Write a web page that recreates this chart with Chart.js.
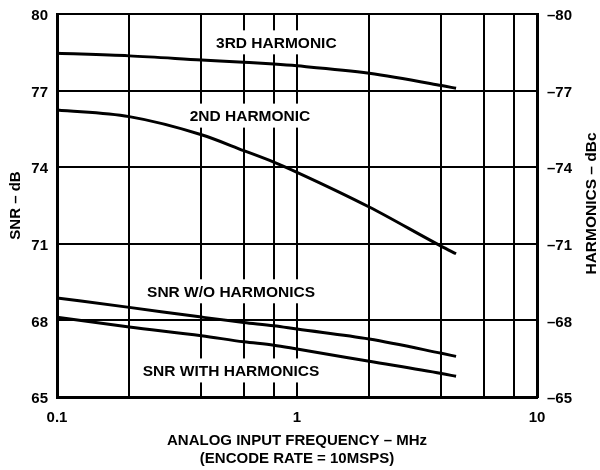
<!DOCTYPE html>
<html lang="en">
<head>
<meta charset="utf-8">
<title>SNR / Harmonics vs Analog Input Frequency</title>
<script src="https://cdn.jsdelivr.net/npm/chart.js@4.4.0/dist/chart.umd.min.js"></script>
<style>
  html, body { margin: 0; padding: 0; background: #fff; }
  #wrap { width: 600px; height: 470px; }
</style>
</head>
<body>
<div id="wrap"><canvas id="snr-chart"></canvas></div>
<script>
// データ (横軸: MHz, SNR は dB, 高調波は dBc)
const freqMHz = [0.1, 0.2, 0.4, 0.6, 0.8, 1, 2, 4, 4.6];
const snrWithoutHarmonics = [68.88, 68.51, 68.13, 67.92, 67.79, 67.66, 67.27, 66.71, 66.59];
const snrWithHarmonics = [68.12, 67.74, 67.40, 67.16, 67.03, 66.88, 66.40, 65.92, 65.81];
const thirdHarmonic = [-78.46, -78.36, -78.20, -78.11, -78.04, -77.97, -77.68, -77.20, -77.09];
const secondHarmonic = [-76.24, -75.98, -75.27, -74.65, -74.20, -73.80, -72.44, -70.90, -70.61];

// 目盛り
const xGridTicks = [0.1, 0.2, 0.4, 0.6, 0.8, 1, 2, 4, 6, 8, 10];
const xLabelTicks = [0.1, 1, 10];
const snrTicks = [65, 68, 71, 74, 77, 80];
const harmonicTicks = [-80, -77, -74, -71, -68, -65];

// 曲線ラベル (x: MHz, y: SNR 軸の dB)
const curveLabels = [
    { text: '3RD HARMONIC', x: 0.82, y: 78.89 },
    { text: '2ND HARMONIC', x: 0.637, y: 76.02 },
    { text: 'SNR W/O HARMONICS', x: 0.531, y: 69.14 },
    { text: 'SNR WITH HARMONICS', x: 0.531, y: 66.04 }
];

const fontFamily = '"Liberation Sans", Arial, Helvetica, sans-serif';
const tickFont = { family: fontFamily, size: 15, weight: 'bold' };
const titleFont = { family: fontFamily, size: 15, weight: 'bold', lineHeight: 1.2 };

function toPoints(values) {
    return freqMHz.map((f, i) => ({ x: f, y: values[i] }));
}

function curve(label, values, axis) {
    return {
        label: label,
        data: toPoints(values),
        yAxisID: axis,
        borderColor: '#000',
        borderWidth: 3,
        pointRadius: 0,
        cubicInterpolationMode: 'monotone',
        fill: false
    };
}

// 縦軸の幅を固定し、上下の余白は layout.padding に任せる
function fixYAxis(width) {
    return scale => {
        scale.width = width;
        scale.paddingTop = 0;
        scale.paddingBottom = 0;
    };
}

// 曲線ラベル (白抜き背景でグリッドを隠す)
const curveLabelPlugin = {
    id: 'curveLabels',
    beforeDatasetsDraw(chart) {
        const { ctx, scales: { x, y } } = chart;
        ctx.save();
        ctx.font = `bold 15.5px ${fontFamily}`;
        ctx.textAlign = 'center';
        ctx.textBaseline = 'middle';
        curveLabels.forEach(l => {
            const px = x.getPixelForValue(l.x);
            const py = y.getPixelForValue(l.y);
            const w = ctx.measureText(l.text).width;
            ctx.fillStyle = '#fff';
            ctx.fillRect(px - w / 2 - 4, py - 12, w + 8, 24);
            ctx.fillStyle = '#000';
            ctx.fillText(l.text, px, py + 1);
        });
        ctx.restore();
    }
};

// 右軸タイトル (下から上へ読む向き)
const rightTitlePlugin = {
    id: 'rightTitle',
    afterDraw(chart) {
        const { ctx, chartArea } = chart;
        ctx.save();
        ctx.font = `bold 15.5px ${fontFamily}`;
        ctx.fillStyle = '#000';
        ctx.textAlign = 'center';
        ctx.textBaseline = 'middle';
        ctx.translate(592, (chartArea.top + chartArea.bottom) / 2 - 2);
        ctx.rotate(-Math.PI / 2);
        ctx.fillText('HARMONICS \u2013 dBc', 0, 0);
        ctx.restore();
    }
};

document.addEventListener('DOMContentLoaded', () => {
    const ctx = document.getElementById('snr-chart').getContext('2d');
    new Chart(ctx, {
        type: 'line',
        data: {
            datasets: [
                curve('3RD HARMONIC', thirdHarmonic, 'y2'),
                curve('2ND HARMONIC', secondHarmonic, 'y2'),
                curve('SNR W/O HARMONICS', snrWithoutHarmonics, 'y'),
                curve('SNR WITH HARMONICS', snrWithHarmonics, 'y')
            ]
        },
        options: {
            responsive: true,
            maintainAspectRatio: false,
            animation: false,
            layout: { padding: { top: 14, left: 0, right: 0, bottom: 0 } },
            plugins: {
                legend: { display: false },
                tooltip: { enabled: false }
            },
            scales: {
                x: {
                    type: 'logarithmic',
                    min: 0.1,
                    max: 10,
                    afterBuildTicks: scale => {
                        scale.ticks = xGridTicks.map(v => ({ value: v }));
                    },
                    afterFit: scale => { scale.height = 73; },
                    ticks: {
                        autoSkip: false,
                        maxRotation: 0,
                        padding: 12,
                        color: '#000',
                        font: tickFont,
                        callback: value => xLabelTicks.includes(value) ? String(value) : ''
                    },
                    grid: { color: '#000', lineWidth: 2, drawTicks: false },
                    border: { display: true, color: '#000', width: 3 },
                    title: {
                        display: true,
                        text: ['ANALOG INPUT FREQUENCY \u2013 MHz', '(ENCODE RATE = 10MSPS)'],
                        color: '#000',
                        font: titleFont,
                        padding: { top: 0, bottom: 2 }
                    }
                },
                y: {
                    position: 'left',
                    min: 65,
                    max: 80,
                    afterBuildTicks: scale => {
                        scale.ticks = snrTicks.map(v => ({ value: v }));
                    },
                    afterFit: fixYAxis(57),
                    ticks: {
                        padding: 9,
                        labelOffset: 2,
                        color: '#000',
                        font: tickFont
                    },
                    grid: { color: '#000', lineWidth: 2, drawTicks: false },
                    border: { display: true, color: '#000', width: 3 },
                    title: {
                        display: true,
                        text: 'SNR \u2013 dB',
                        color: '#000',
                        font: titleFont,
                        padding: { top: 7, bottom: 0 }
                    }
                },
                y2: {
                    position: 'right',
                    min: -80,
                    max: -65,
                    reverse: true,
                    afterBuildTicks: scale => {
                        scale.ticks = harmonicTicks.map(v => ({ value: v }));
                    },
                    afterFit: fixYAxis(63),
                    ticks: {
                        padding: 10,
                        labelOffset: 2,
                        color: '#000',
                        font: tickFont,
                        callback: value => '\u2013' + Math.abs(value)
                    },
                    grid: { drawOnChartArea: false, drawTicks: false },
                    border: { display: true, color: '#000', width: 3 }
                }
            }
        },
        plugins: [curveLabelPlugin, rightTitlePlugin]
    });
});
</script>
</body>
</html>
